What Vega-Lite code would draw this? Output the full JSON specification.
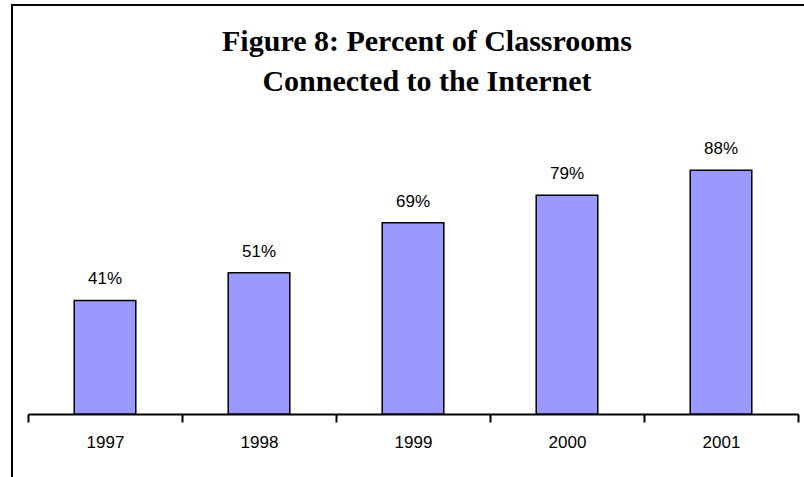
{
  "$schema": "https://vega.github.io/schema/vega-lite/v6.json",
  "autosize": {"type": "none"},
  "padding": {"left": 12, "top": 5, "right": -12, "bottom": -14},
  "width": 804,
  "height": 486,
  "background": "white",
  "config": {
    "view": {"stroke": "black", "strokeWidth": 2},
    "font": "Liberation Sans"
  },
  "title": {
    "text": ["Figure 8: Percent of Classrooms", "Connected to the Internet"],
    "font": "Liberation Serif",
    "fontWeight": "bold",
    "fontSize": 30,
    "color": "black",
    "anchor": "middle",
    "frame": "group",
    "orient": "top",
    "offset": -92,
    "lineHeight": 40,
    "dx": 13
  },
  "data": {
    "values": [
      {"year": "1997", "value": 0.41},
      {"year": "1998", "value": 0.51},
      {"year": "1999", "value": 0.69},
      {"year": "2000", "value": 0.79},
      {"year": "2001", "value": 0.88}
    ]
  },
  "encoding": {
    "x": {
      "field": "year",
      "type": "nominal",
      "sort": null,
      "scale": {"range": [16, 786], "paddingInner": 0, "paddingOuter": 0},
      "axis": {
        "title": null,
        "orient": "bottom",
        "offset": -77,
        "labelAngle": 0,
        "labelFont": "Liberation Sans",
        "labelFontSize": 17,
        "labelColor": "black",
        "labelPadding": 12,
        "tickBand": "extent",
        "tickSize": 8,
        "tickWidth": 2,
        "tickColor": "black",
        "domainColor": "black",
        "domainWidth": 2,
        "grid": false
      }
    },
    "y": {
      "field": "value",
      "type": "quantitative",
      "scale": {"domain": [0, 1], "range": [409, 132], "nice": false, "zero": false},
      "axis": null
    }
  },
  "layer": [
    {
      "mark": {"type": "bar", "width": {"band": 0.4}, "fill": "#9999FF", "stroke": "black", "strokeWidth": 1.5},
      "encoding": {"y2": {"datum": 0}}
    },
    {
      "mark": {"type": "text", "baseline": "alphabetic", "dy": -16, "fontSize": 17, "font": "Liberation Sans", "color": "black"},
      "encoding": {"text": {"field": "value", "type": "quantitative", "format": ".0%"}}
    }
  ]
}
